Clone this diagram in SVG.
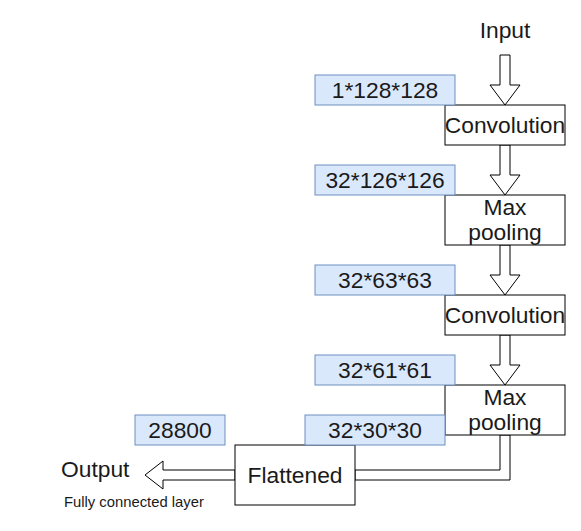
<svg xmlns="http://www.w3.org/2000/svg" width="581" height="531" viewBox="0 0 581 531">
<style>
text{font-family:"Liberation Sans",Arial,sans-serif;fill:#1a1a1a}
.t{font-size:22.8px;text-anchor:middle}
.box{fill:#fff;stroke:#000;stroke-width:1}
.lbl{fill:#dae8fc;stroke:#6c8ebf;stroke-width:1}
.arr{fill:#fff;stroke:#000;stroke-width:1;stroke-linejoin:miter}
</style>
<rect width="581" height="531" fill="#fff"/>
<g id="connectors">
<path class="arr" d="M500,55 L510,55 L510,85 L520,85 L505,105 L490,85 L500,85 Z"/>
<path class="arr" d="M500,145 L510,145 L510,175 L520,175 L505,195 L490,175 L500,175 Z"/>
<path class="arr" d="M500,245 L510,245 L510,275 L520,275 L505,295 L490,275 L500,275 Z"/>
<path class="arr" d="M500,335 L510,335 L510,365 L520,365 L505,385 L490,365 L500,365 Z"/>
<path class="arr" d="M500,435 L510,435 L510,480 L355,480 L355,470 L500,470 Z"/>
<path class="arr" d="M235,470 L163,470 L163,461 L145,475 L163,489 L163,480 L235,480 Z"/>
</g>
<g id="input"><text class="t" x="505" y="38">Input</text></g>
<g id="conv1"><rect class="box" x="445" y="105" width="120" height="40"/><text class="t" x="505" y="133">Convolution</text></g>
<g id="pool1"><rect class="box" x="445" y="195" width="120" height="50"/><text class="t" x="505" y="215">Max</text><text class="t" x="505" y="240">pooling</text></g>
<g id="conv2"><rect class="box" x="445" y="295" width="120" height="40"/><text class="t" x="505" y="323">Convolution</text></g>
<g id="pool2"><rect class="box" x="445" y="385" width="120" height="50"/><text class="t" x="505" y="405">Max</text><text class="t" x="505" y="430">pooling</text></g>
<g id="flattened"><rect class="box" x="235" y="445" width="120" height="60"/><text class="t" x="295" y="483">Flattened</text></g>
<g id="lbl1"><rect class="lbl" x="315" y="75" width="140" height="30"/><text class="t" x="385" y="98">1*128*128</text></g>
<g id="lbl2"><rect class="lbl" x="315" y="165" width="140" height="30"/><text class="t" x="385" y="188">32*126*126</text></g>
<g id="lbl3"><rect class="lbl" x="315" y="265" width="140" height="30"/><text class="t" x="385" y="288">32*63*63</text></g>
<g id="lbl4"><rect class="lbl" x="315" y="355" width="140" height="30"/><text class="t" x="385" y="378">32*61*61</text></g>
<g id="lbl5"><rect class="lbl" x="305" y="415" width="140" height="30"/><text class="t" x="375" y="438">32*30*30</text></g>
<g id="lbl6"><rect class="lbl" x="135" y="415" width="90" height="30"/><text class="t" x="180" y="438">28800</text></g>
<g id="output"><text x="61" y="477" style="font-size:22.8px">Output</text><text x="64" y="507" style="font-size:14.8px">Fully connected layer</text></g>
</svg>
